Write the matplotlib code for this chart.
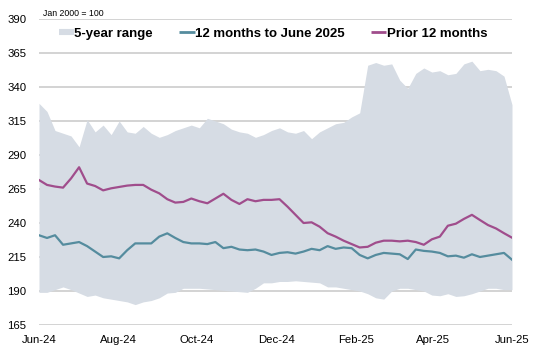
import matplotlib
matplotlib.use("Agg")
import matplotlib.pyplot as plt
import matplotlib.dates as mdates
from matplotlib.lines import Line2D
import pandas as pd
import numpy as np

plt.rcParams['font.family'] = ['Liberation Sans', 'DejaVu Sans']

start, end = "2024-06-01", "2025-06-01"
n_points = 60

range_high = [328, 322, 308, 306, 304, 296, 316, 307, 312, 305,
              315, 307, 306, 311, 306, 303, 305, 308, 310, 312,
              310, 317, 315, 313, 309, 307, 306, 303, 305, 308,
              310, 307, 306, 308, 302, 307, 310, 313, 314, 318,
              321, 356, 358, 356, 357, 345, 339, 350, 354, 351,
              352, 349, 350, 357, 359, 352, 353, 352, 348, 327]

range_low = [189, 189, 191, 193, 191, 188.5, 186, 187, 185, 184,
             183, 182, 180, 182, 183, 185, 188.5, 189, 192, 192,
             192, 191.5, 191, 190.5, 190, 189.5, 189, 192, 196, 196,
             197, 197, 197.5, 197, 196.5, 196, 193, 193, 192, 191,
             190, 188, 185, 184, 190, 192, 192, 191, 190, 187,
             186.5, 188, 186, 186.5, 188, 190, 192, 192, 191, 191]

last_12m = [231, 229, 231, 224, 225, 226, 223, 219, 215, 215.5,
            214, 220, 225, 225, 225, 230, 232.4, 229, 226, 225,
            225, 224.5, 226, 221.5, 222.5, 220.5, 220, 220.5, 219, 216.5,
            218, 218.5, 217.5, 219, 221, 220, 223, 221, 222, 221.5,
            216.5, 214, 216.5, 218, 217.5, 217, 213.5, 220.5, 219.5, 219,
            218, 215.5, 216, 214.5, 217, 215, 216, 217, 218, 213]

prior_12m = [271.6, 268, 266.8, 266, 272.8, 281, 269, 267.2, 264, 265.5,
             266.5, 267.5, 268, 268, 264.5, 261.8, 257.5, 255, 255.5, 258,
             256, 254.5, 258, 261.5, 257, 254, 257.5, 256, 257, 257,
             257.5, 252, 246, 240, 240.5, 237.3, 232.5, 230, 227, 224.5,
             222, 222.5, 225.5, 227, 227, 226.5, 227, 226, 224, 228,
             230, 238, 239.5, 243, 246, 242.2, 238.5, 236, 232.5, 229.2]

series_labels = ["5-year range", "12 months to June 2025", "Prior 12 months"]
tick_dates = ["2024-06-01", "2024-08-01", "2024-10-01", "2024-12-01",
              "2025-02-01", "2025-04-01", "2025-06-01"]
y_ticks = [165, 190, 215, 240, 265, 290, 315, 340, 365, 390]

dates = pd.date_range(start, end, periods=n_points)

fig = plt.figure(figsize=(5.33, 3.48), dpi=100)
ax = fig.add_axes([39/533, 23/348, 473/533, 306/348])

fill_c = "#d6dce4"
teal_c = "#558c9e"
mag_c = "#a04d8c"

for yv in y_ticks:
    ax.axhline(yv, color="#d0d0d0", lw=1.3, zorder=0)

ax.fill_between(dates, range_low, range_high, color=fill_c, lw=0, zorder=1)
ax.plot(dates, last_12m, color=teal_c, lw=1.6, zorder=3)
ax.plot(dates, prior_12m, color=mag_c, lw=1.6, zorder=3)

ax.set_xlim(pd.Timestamp(start), pd.Timestamp(end))
ax.set_ylim(165, 390)
ax.set_yticks(y_ticks)
ax.set_xticks(pd.to_datetime(tick_dates))
ax.xaxis.set_major_formatter(mdates.DateFormatter("%b-%y"))
ax.tick_params(axis="both", length=0, labelsize=8.2, colors="black")
ax.tick_params(axis="y", pad=9)
ax.tick_params(axis="x", pad=7)
for s in ax.spines.values():
    s.set_visible(False)

handles = [Line2D([], [], color=fill_c, lw=4.4, solid_capstyle="butt"),
           Line2D([], [], color=teal_c, lw=2, solid_capstyle="butt"),
           Line2D([], [], color=mag_c, lw=2, solid_capstyle="butt")]
leg = ax.legend(handles, series_labels, loc="center",
                bbox_to_anchor=(0.495, 0.951), ncol=3,
                frameon=False, prop={"weight": "bold", "size": 9.5},
                handlelength=1.15, handletextpad=0.05, columnspacing=2.0,
                borderaxespad=0)

fig.text(43/533, 1 - 13/348, "Jan 2000 = 100", fontsize=6.3,
         ha="left", va="center")

fig.savefig("out.png", dpi=100)
